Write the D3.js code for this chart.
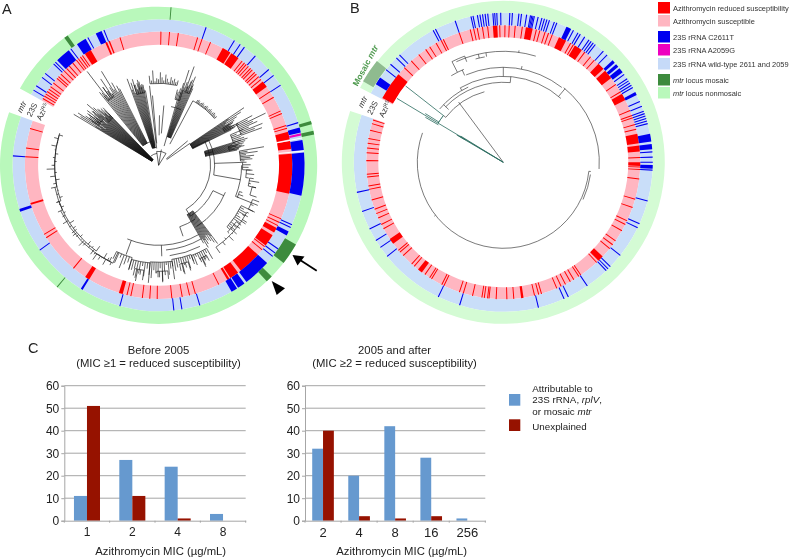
<!DOCTYPE html>
<html><head><meta charset="utf-8">
<script src="https://cdn.jsdelivr.net/npm/d3@7"></script>
<style>html,body{margin:0;background:#fff}svg{display:block;font-family:"Liberation Sans",Arial,sans-serif;filter:blur(.3px)}</style>
</head><body><svg id="c" width="790" height="558"></svg>
<script>
// ---- Panel A ring data (degrees clockwise from 12 o'clock); number = single isolate, pair = run of isolates
const gapA=[289.5,299];
const azReducedA=[343.2,1,4.7,8.5,17,19,22.9,38.7,40,41,42.2,43.5,44.5,46,47,48.5,50,56.6,59.4,66,67.2,72.7,73.9,113.6,115.3,116.8,127.5,129.2,153.2,164,166.6,169.8,174.3,180.6,183.8,187,192,193.7,219.6,237.2,238.9,273.7,277.4,286,300,301.2,302.3,303.5,304.7,306,308,310.5,311.5,313,315,316.5,318,320,322,323,324.2,325.2,
[28.7,32.5],[33,36.7],[51.2,54],[75.5,78.8],[79.5,83],[85,102.3],[118,120.2],[121.5,126.8],[132,142],[143.5,147.5],[148,149],[195.6,197.3],[211.3,213.3],[252.8,253.6],[326.5,329.5],[336.5,337.3],[338,338.6]];
const c2611TA=[19,31.3,34,36,41.5,49,52,56.7,73,114,115.2,125,127,128.6,163.6,170.8,174,195.4,234.5,273.7,338,323,315,314,309,307,303,301,331,
[75,77],[80,84],[85,102],[117,118.7],[132,143],[144,147],[147.5,150],[211.4,212.2],[251.5,252.6],[334.5,337],[326,330],[316,322]];
const a2059GA=[[77.3,78.2]];
const blankA=[79.2,84.4];
const mosaicA=[4.5,[323.5,325],[73.8,75],[77.4,78.8],[120,128],[134.5,137],219.8];
// ---- Panel A tree: [a0,a1,rBase,[tip radii]]
const cladesA=[
[301,316,8,[99,74,92,68,96,80,88,64,84,76,86,70,78,90,72,82,66,85,73,94,69,87,71,83,67,79,75,81,70,77,72]],
[304,310,72,[84,78,88,81,76,86,80]],
[311,316,66,[78,72,82,75,70,80]],
[321,333,25,[94,88,118,84,96,90,104,86,92,110,88,95,84,90,86]],
[322,327,82,[92,88,96,90,85]],
[340,349,18,[92,80,87,76,90,84,78,85,82,86,80,83,82]],
[343,349,74,[84,79,88,82,77]],
[354,13,82,[90,85,95,84,87,86,93,88,85,91,87,84,89,86,88,85,87]],
[14,18,68,[78,76,80,77,79]],
[17,24,30,[86,100,82,78,105,85,90,80,96,88,84]],
[19,23,78,[88,84,92,86]],
[31,50,73,[76,77,76,75,76,77,76,75,76,77,76,75,76,77,76,75,76,77,76,75,76]],
[56,64,38,[103,84,98,80,92,78,88,82,85,80,83,86,82,90,85,81]],
[60,63,74,[86,82,90,84]],
[62,70,88,[106,100,119,104,108,98,112,103,110]],
[67,73,78,[92,84,88,87,90,86]],
[73,79,48,[93,80,90,76,88,82,86,74,84,78,82,80]],
[75,78,72,[84,80,88,82]],
[80,87,82,[107,90,100,88,96,92,94,86]],
[88,93,84,[88,92,90,94]],[93,98,88,[92,96,91]],[98,103,92,[96,102,94,100]],[103,108,96,[100,103]],[108,112,85,[88,90,86]],[110,116,100,[107,103,105]],
[116,132,92,[107,96,100,103,94,97,105,99,93,101,95,97,96]],
[118,145,100,[102,97,105,99,103,96,101,106,98,104,100,107]],
[126,134,96,[102,99,104,98]],
[143,150,57,[98,88,95,85,92,84,90,86,93,88,96,86,90]],
[150,160,96,[108,100,104,106,112,103,99,107,102]],
[152,156,102,[108,105,110,106]],
[160,172,95,[105,99,108,101,103,110,100,104,107,102]],
[163,168,101,[110,106,112,108]],
[172,185,97,[115,104,110,100,106,116,103,112,108,105,113,110]],
[175,181,106,[114,110,117,112,108]],
[185,196,98,[118,104,112,102,110,115,106,108,109]],
[188,193,106,[116,111,118,113]],
[196,206,96,[108,102,105,110,100,107,104]],
[206,216,108,[111,103,105,114,102,109,112,107,115,110]],
[216,232,106,[100,112,104,108,102,110,113,107,103,109,111,104]],
[232,250,106,[110,103,108,101,112,106,109,104,111,103,107,109]],
[250,270,104,[108,101,106,103,110,107,100,109,102,112,105]],
[270,287,104,[107,102,106,101,105,109,103,108,100]]];
const arcsA=[[12,320,352],[18,344,352],[25,326,345],[14,352,32],[38,55,63],[52,63,148],[56,63,100],[83,90,112],[60,115,148],[65,146,161],[80,150,203],[85,150,175],[91,153,173],[108,205,245],[106,245,258],[104,258,288],[72,112,148],[30,17,25],[60,12,22],[73,28,31],[48,74,80]];
const radialsA=[[352,0,14],[10,0,16],[32,0,14],[50,10,38],[55,10,38],[353.5,17,80],[350,20,76],[355,22,70],[1,30,50],[5,32,60],[16,20,68],[28,24,73],[63,38,56],[100,56,83],[112,83,107],[161,65,75],[200,80,95],[178,80,91],[148,52,60],[115,60,72],[205,96,108],[88,56,84],[76,48,56]];
// ---- Panel B ring data
const gapB=[288.5,297.5];
const azReducedB=[346,347.5,349,351.2,353.4,358.5,.7,2.5,5,8,14,15.5,17.8,19.3,21,29.5,30.8,36.5,39.6,41.7,55.3,59,67.8,70,71,74,76,88,92,93,97,105.6,109.3,115.3,117,120,125,127,129,137,145.5,146.5,149,150.7,153,155,157,163.8,165,166.8,175.6,178.5,183,186,186.6,188,189,193,197,198.7,205.7,206.7,211.6,212.5,214.9,220.6,222,227,229,230,241,243,246,248,250,254,258.6,260,263.8,265,270.7,274,276,278,280,283.5,286.4,288,313.7,317.8,321.9,325.5,327.5,330.6,333,334,341.2,
[355.6,357.5],[9.5,12.4],[24,27.3],[31.5,35],[44,47],[48,52],[60,63],[78,82],[83,85.5],[90,91.5],[133.5,136],[171.5,172.5],[216.5,218.5],[233.5,236],[298,310]];
const c2611TB=[347.5,348.3,350,351,352,353,354,356,356.7,357.5,359,2.5,3.5,6,7,9,10.5,11,11.5,12,13.5,15,16,17,18,20,21,28,30,31,33,35,36,37,38,42,44,54,56,57,58,59,60,66,68,70,71,72,73,74,75,86,88,90,93,105,114.3,116,128.5,134.3,135.5,136.5,145.8,154.2,156,166.4,197,205.8,231,235.3,238.5,243.5,250.8,258.4,308.3,311,314.3,316,332,333,341.2,
[25,27],[47,48.2],[49,50.3],[51,53],[62,63.2],[79,82],[83,85],[91,92.5],[301.5,304.5]];
const mosaicB=[];
const mosaicPatchB=[300,308.7];
const arcsB=[[86,96,290],[88,98,115],[96,39,94],[86,330,42],[80,314,5],[111,335,17],[95,337,38],[101,329,337],[113,333,340],[73,308,345],[83,310,335],[107,345,350]];
const radialsB=[[323.4,0,75],[96,86,88],[0,86,95],[5,80,86],[40,86,96],[333,101,113],[336,95,101],[340,107,113],[347,107,111],[351,107,111],[308,73,76],[314,76,83],[330,83,86],[8,111,113],[11,95,98],[232,86,87.5]];
const tealArcsB=[[76,301,308]];
const tealRadialsB=[[301,0,124],[308,76,124],[300.4,0,54],[301.6,0,50],[300,75,90],[302,76,92],[300.6,44,52]];
// ---- Panel C data
const micBefore=["1","2","4","8"];
const attributableBefore=[11,27,24,3];
const unexplainedBefore=[51,11,1,0];
const micAfter=["2","4","8","16","256"];
const attributableAfter=[32,20,42,28,1];
const unexplainedAfter=[40,2,1,2,0];
const yTicks=[0,10,20,30,40,50,60];
const legendTop=[["Azithromycin reduced susceptibility","#ff0000"],["Azithromycin susceptible","#ffb6c1"],["23S rRNA C2611T","#0000f0"],["23S rRNA A2059G","#ee00c0"],["23S rRNA wild-type 2611 and 2059","#c6daf8"],["locus mosaic","#3d8b3d"],["locus nonmosaic","#b9f8bb"]];
const legendY=[2,15,31,44,58,74,87];

const svg=d3.select("#c");
const rad=d3.scaleLinear().domain([0,360]).range([0,2*Math.PI]);
const INK="#333";

function ring(g,items,r0,r1,color,thin=.42){
  g.append("g").selectAll("path").data(items).join("path")
    .attr("fill",color)
    .attr("d",d=>{
      const [a,b]=Array.isArray(d)?d:[d-thin/2,d+thin/2];
      const e=b<a?b+360:b;
      return d3.arc()({innerRadius:r0,outerRadius:r1,startAngle:rad(a),endAngle:rad(e)});
    });
}
function drawArcs(g,arcs,color,w){
  g.append("g").selectAll("path").data(arcs).join("path").attr("fill","none").attr("stroke",color).attr("stroke-width",w)
   .attr("d",([r,a,b])=>{
     const p=d3.path(); const e=b<a?b+360:b;
     p.arc(0,0,r,rad(a)-Math.PI/2,rad(e)-Math.PI/2);
     return p.toString();
   });
}
function drawRadials(g,rs,color,w){
  g.append("g").selectAll("path").data(rs).join("path").attr("fill","none").attr("stroke",color).attr("stroke-width",w)
   .attr("d",([a,r0,r1])=>d3.lineRadial()([[rad(a),r0],[rad(a),r1]]));
}
function drawClades(g,clades,color,w){
  clades.forEach(([a,b,base,tips])=>{
    const e=b<a?b+360:b;
    const ang=d3.scalePoint().domain(d3.range(tips.length)).range([a,e]);
    drawArcs(g,[[base,a,b]],color,w);
    drawRadials(g,tips.map((r,i)=>[ang(i),base,r]),color,w);
  });
}
function panel(cx,cy,radii,gap,red,blue,mag,mosaic,cols){
  const g=svg.append("g").attr("transform",`translate(${cx},${cy})`);
  const open=[gap[1],gap[0]];
  ring(g,[open],radii[0],radii[1],"#ffb6c1");
  ring(g,[open],radii[1],radii[2],cols.wt);
  ring(g,[open],radii[2],radii[3],cols.non);
  ring(g,red,radii[0],radii[1],"#ff0000");
  ring(g,blue,radii[1],radii[2],"#0000f0");
  ring(g,mag,radii[1],radii[2],"#ee00c0");
  ring(g,mosaic,radii[2],radii[3],"#3d8b3d",.35);
  return g;
}
// Panel A
const gA=panel(158.6,165.3,[120.5,133.7,146,158.6],gapA,azReducedA,c2611TA,a2059GA,mosaicA,{wt:"#c6daf8",non:"#b9f8bb"});
ring(gA,blankA,120.5,146,"#fff",.4);
drawClades(gA,cladesA,"#111",.65);
drawArcs(gA,arcsA,"#111",.65);
drawRadials(gA,radialsA,"#111",.65);
// Panel B
const gB=panel(503.3,162.3,[125,137,149.5,161.5],gapB,azReducedB,c2611TB,[],mosaicB,{wt:"#c9def9",non:"#d4fbd4"});
ring(gB,[mosaicPatchB],150,162,"#8fbb8f");
drawArcs(gB,arcsB,"#222",.6);
drawRadials(gB,radialsB,"#222",.6);
drawArcs(gB,tealArcsB,"#2a6b5e",1);
drawRadials(gB,tealRadialsB,"#2a6b5e",.8);

// Ring labels
function ringLabel(x,y,parts,rot=-63){
  const t=svg.append("text").attr("transform",`translate(${x},${y}) rotate(${rot})`).attr("text-anchor","middle").attr("font-size",8).attr("fill",INK);
  parts.forEach(([s,st])=>{
    const ts=t.append("tspan").text(s);
    if(st==="i")ts.attr("font-style","italic");
    if(st==="sup")ts.attr("font-size",5).attr("dy",-2.5);
  });
}
ringLabel(24,108,[["mtr","i"]]);ringLabel(34.5,111,[["23S"]]);ringLabel(45,113,[["Azi"],["RS","sup"]]);
ringLabel(365,103,[["mtr","i"]]);ringLabel(375,109,[["23S"]]);ringLabel(387.5,110,[["Azi"],["RS","sup"]]);
svg.append("text").attr("transform","translate(368,67) rotate(-62)").attr("text-anchor","middle").attr("font-size",8.5).attr("fill","#4d994d").attr("font-weight","bold")
  .selectAll("tspan").data([["Mosaic ","normal"],["mtr","italic"]]).join("tspan").text(d=>d[0]).attr("font-style",d=>d[1]);

// Panel letters
[["A",2,13.5],["B",350,13],["C",28,353]].forEach(([s,x,y])=>svg.append("text").attr("x",x).attr("y",y).attr("font-size",14.5).attr("fill","#222").text(s));

// Arrow and arrowhead
const arrow=svg.append("g");
arrow.append("line").attr("x1",316.7).attr("y1",270.7).attr("x2",297).attr("y2",258).attr("stroke","#000").attr("stroke-width",1.8);
arrow.append("path").attr("d","M292.5,255L304.5,256.5L297.5,265.5Z").attr("fill","#000");
arrow.append("path").attr("d","M271.7,281L285,288.3L276.7,295Z").attr("fill","#000");

// Top legend
const lg=svg.append("g");
legendTop.forEach(([label,col],i)=>{
  const y=legendY[i];
  lg.append("rect").attr("x",658).attr("y",y).attr("width",12).attr("height",11.5).attr("fill",col);
  const t=lg.append("text").attr("x",673).attr("y",y+8.5).attr("font-size",7.45).attr("fill",INK);
  if(i>=5)t.append("tspan").attr("font-style","italic").text("mtr ");
  t.append("tspan").text(label);
});

// Bars
function bars(x0,x1,cats,a,b,pad,fs){
  const yS=d3.scaleLinear().domain([0,60]).range([520.7,385.7]);
  const xS=d3.scaleBand().domain(cats).range([x0,x1]).paddingInner(pad).paddingOuter(pad/2);
  const inner=d3.scaleBand().domain([0,1]).range([0,xS.bandwidth()]);
  const g=svg.append("g");
  g.append("g").selectAll("line").data(yTicks.slice(1)).join("line").attr("x1",x0).attr("x2",x1)
   .attr("y1",yS).attr("y2",yS).attr("stroke","#a6a6a6").attr("stroke-width",1);
  [a,b].forEach((vals,k)=>{
    g.append("g").selectAll("rect").data(vals).join("rect")
     .attr("x",(d,i)=>xS(cats[i])+inner(k)).attr("width",inner.bandwidth())
     .attr("y",d=>yS(d)).attr("height",d=>yS(0)-yS(d)).attr("fill",k?"#961200":"#6699cf");
  });
  const ax=g.append("g").attr("transform",`translate(${x0},0)`).call(d3.axisLeft(yS).tickValues(yTicks).tickSize(3).tickPadding(2));
  ax.select(".domain").attr("stroke","#a6a6a6");
  ax.selectAll("line").attr("stroke","#a6a6a6");
  ax.selectAll("text").attr("font-size",12).attr("font-family","inherit").attr("fill","#222");
  const xa=d3.axisBottom(xS).tickSize(0).tickPadding(7);
  const ax2=g.append("g").attr("transform",`translate(0,${yS(0)})`).call(xa);
  ax2.select(".domain").attr("stroke","#a6a6a6");
  ax2.selectAll("text").attr("font-size",fs).attr("font-family","inherit").attr("fill","#222");
  const step=(x1-x0)/cats.length;
  g.append("g").selectAll("line").data(d3.range(cats.length+1)).join("line")
   .attr("x1",i=>x0+i*step).attr("x2",i=>x0+i*step).attr("y1",yS(0)).attr("y2",yS(0)+2).attr("stroke","#a6a6a6");
}
bars(64.3,245.7,micBefore,attributableBefore,unexplainedBefore,.426,12);
bars(305,485.3,micAfter,attributableAfter,unexplainedAfter,.4,13);
function titles(cx,a,b,axisCx){
  const t=(s,x,y)=>svg.append("text").attr("x",x).attr("y",y).attr("text-anchor","middle").attr("font-size",11.3).attr("fill","#222").text(s);
  t(a,cx,353.5);t(b,cx,367.3);
  t("Azithromycin MIC (µg/mL)",axisCx,555);
}
titles(158.5,"Before 2005","(MIC ≥1 = reduced susceptibility)",160.7);
titles(394.5,"2005 and after","(MIC ≥2 = reduced susceptibility)",401.7);
// Panel C legend
svg.append("rect").attr("x",509).attr("y",394).attr("width",11.3).attr("height",11.7).attr("fill","#6699cf");
svg.append("rect").attr("x",509).attr("y",419.3).attr("width",11.3).attr("height",11.7).attr("fill","#961200");
const cl=(y)=>svg.append("text").attr("x",532.3).attr("y",y).attr("font-size",9.8).attr("fill","#222");
cl(391.7).text("Attributable to");
const l2=cl(403.3);l2.append("tspan").text("23S rRNA, ");l2.append("tspan").attr("font-style","italic").text("rplV");l2.append("tspan").text(",");
const l3=cl(415);l3.append("tspan").text("or mosaic ");l3.append("tspan").attr("font-style","italic").text("mtr");
cl(430).text("Unexplained");
</script></body></html>
